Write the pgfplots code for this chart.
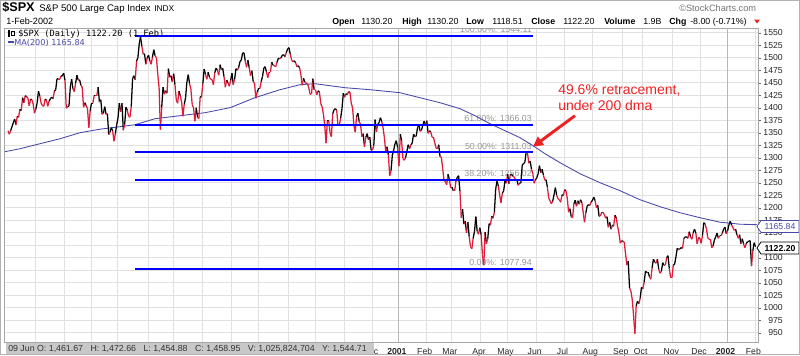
\documentclass[border=0pt]{standalone}
\usepackage{fontspec}
\setmainfont{Liberation Sans}
\newfontfamily\monofont{DejaVu Sans Mono}
\newfontfamily\dvs{DejaVu Sans}
\usepackage{pgfplots}
\usepackage{pgfplotstable}
\pgfplotsset{compat=1.18}
\usetikzlibrary{arrows.meta}
\definecolor{fibblue}{RGB}{0,0,255}
\definecolor{mablue}{RGB}{72,72,170}
\definecolor{annred}{RGB}{238,34,34}
\definecolor{gridc}{RGB}{224,224,224}
\definecolor{fibtxt}{RGB}{150,150,150}
\definecolor{boxgray}{RGB}{200,200,200}

% daily closes, Nov 1999 - 1 Feb 2002 (one row per trading day)
\pgfplotstableread[row sep=\\]{p\\
1354\\1347\\1354\\1362\\1370\\1377\\1366\\1383\\1381\\1397\\1394\\1420\\1410\\1424\\1422\\1420\\1404\\1417\\1416\\1407\\1389\\
1397\\1410\\1433\\1423\\1409\\1404\\1403\\1417\\1415\\1403\\1413\\1418\\1421\\1418\\1433\\1436\\1458\\1457\\1457\\1463\\1464\\1469\\
1455\\1399\\1402\\1403\\1441\\1457\\1438\\1432\\1449\\1465\\1455\\1456\\1445\\1441\\1401\\1410\\1404\\1398\\1360\\1394\\
1409\\1409\\1424\\1424\\1424\\1441\\1411\\1416\\1387\\1389\\1402\\1387\\1388\\1346\\1352\\1360\\1353\\1333\\1348\\1366\\
1379\\1409\\1392\\1409\\1355\\1366\\1401\\1395\\1383\\1381\\1402\\1458\\1464\\1456\\1493\\1500\\1527\\1542\\1523\\1507\\1508\\1487\\1499\\
1505\\1494\\1487\\1501\\1516\\1504\\1500\\1467\\1440\\1356\\1401\\1441\\1427\\1434\\1429\\1478\\1461\\1464\\1452\\
1468\\1446\\1415\\1409\\1433\\1424\\1411\\1383\\1407\\1420\\1452\\1466\\1448\\1437\\1406\\1400\\1373\\1400\\1381\\1378\\1422\\1421\\
1448\\1477\\1467\\1457\\1471\\1461\\1457\\1456\\1446\\1470\\1479\\1475\\1465\\1486\\1476\\1479\\1462\\1441\\1455\\1450\\1443\\1455\\
1469\\1446\\1457\\1478\\1475\\1480\\1492\\1495\\1509\\1510\\1494\\1481\\1495\\1480\\1464\\1474\\1453\\1449\\1419\\1431\\
1438\\1438\\1452\\1462\\1479\\1482\\1472\\1460\\1471\\1471\\1491\\1485\\1484\\1482\\1491\\1499\\1498\\1500\\1505\\1506\\1502\\1510\\1518\\
1520\\1507\\1495\\1492\\1494\\1490\\1482\\1484\\1480\\1466\\1445\\1459\\1451\\1449\\1448\\1439\\1427\\1427\\1458\\1436\\
1436\\1426\\1434\\1431\\1408\\1402\\1387\\1364\\1329\\1374\\1374\\1350\\1342\\1388\\1396\\1398\\1395\\1365\\1365\\1379\\1398\\1429\\
1421\\1428\\1426\\1432\\1431\\1409\\1400\\1365\\1351\\1382\\1389\\1372\\1367\\1342\\1348\\1322\\1341\\1348\\1336\\1341\\1315\\
1315\\1324\\1376\\1352\\1367\\1370\\1380\\1372\\1360\\1340\\1312\\1322\\1306\\1264\\1274\\1305\\1315\\1328\\1334\\1320\\
1283\\1347\\1334\\1298\\1295\\1300\\1313\\1326\\1318\\1326\\1329\\1347\\1342\\1343\\1360\\1365\\1353\\1355\\1365\\1373\\1366\\
1374\\1349\\1354\\1352\\1341\\1341\\1330\\1319\\1318\\1326\\1302\\1301\\1278\\1255\\1252\\1246\\1267\\1257\\1240\\
1241\\1234\\1234\\1253\\1261\\1264\\1233\\1180\\1197\\1167\\1173\\1150\\1171\\1142\\1122\\1118\\1139\\1153\\1182\\1153\\1147\\1160\\
1146\\1106\\1085\\1151\\1128\\1138\\1168\\1165\\1183\\1179\\1191\\1238\\1253\\1243\\1225\\1210\\1229\\1234\\1254\\1249\\
1267\\1248\\1266\\1267\\1263\\1261\\1255\\1256\\1245\\1249\\1250\\1285\\1288\\1291\\1312\\1309\\1289\\1293\\1277\\1268\\1249\\1256\\
1260\\1268\\1284\\1270\\1277\\1265\\1255\\1256\\1241\\1219\\1214\\1208\\1213\\1226\\1240\\1225\\1218\\1216\\1211\\1226\\1224\\
1236\\1234\\1219\\1191\\1198\\1182\\1180\\1208\\1215\\1203\\1214\\1207\\1216\\1210\\1191\\1171\\1190\\1203\\1206\\1205\\1211\\
1215\\1221\\1214\\1200\\1205\\1183\\1183\\1191\\1191\\1186\\1179\\1182\\1161\\1171\\1157\\1165\\1163\\1185\\1179\\1162\\1149\\1129\\1134\\
1133\\1131\\1107\\1085\\1093\\1039\\1033\\1017\\985\\948\\1004\\1013\\1008\\1019\\1041\\
1038\\1051\\1073\\1070\\1071\\1062\\1057\\1080\\1097\\1091\\1089\\1097\\1077\\1069\\1073\\1090\\1085\\1085\\1100\\1104\\1078\\1060\\1060\\
1085\\1087\\1102\\1119\\1116\\1118\\1120\\1119\\1139\\1141\\1142\\1139\\1152\\1142\\1137\\1150\\1157\\1149\\1128\\1140\\1139\\
1129\\1144\\1170\\1167\\1158\\1140\\1137\\1137\\1120\\1124\\1135\\1142\\1149\\1139\\1144\\1144\\1149\\1157\\1161\\1148\\
1154\\1166\\1173\\1165\\1160\\1155\\1157\\1146\\1139\\1146\\1128\\1138\\1128\\1120\\1128\\1132\\1133\\1134\\1083\\1114\\1130\\
1122\\
}\spx
\def\prevp{16000}
\pgfplotstablecreatecol[create col/assign/.code={%
  \getthisrow{p}\curp
  \ifdim\curp pt>\prevp pt\relax\def\mv{1}\else\def\mv{0}\fi
  \xdef\prevp{\curp}%
  \pgfkeyslet{/pgfplots/table/create col/next content}\mv
}]{m}\spx

% 200-day moving average (x in chart position units)
\pgfplotstableread[row sep=\\]{x p\\
5 1312\\20 1318\\40 1328\\60 1338\\80 1350\\100 1357\\120 1362\\135 1366\\155 1378\\180 1384\\
205 1390\\230 1400\\255 1420\\280 1436\\300 1446\\315 1448\\345 1440\\370 1436\\400 1430\\420 1420\\
440 1410\\460 1398\\475 1384\\490 1368\\505 1354\\520 1340\\533 1324\\545 1308\\560 1290\\580 1268\\
600 1250\\620 1234\\640 1216\\660 1202\\680 1190\\700 1180\\720 1171\\740 1167\\757 1166\\
}\ma

\begin{document}
\begin{tikzpicture}
\path[use as bounding box] (0,0) rectangle (600pt,266.25pt);
\begin{axis}[
  at={(3pt,9.75pt)}, anchor=south west,
  scale only axis, width=565.5pt, height=235.5pt,
  xmin=4, xmax=758, ymin=931.4, ymax=1559.4,
  axis line style={draw=black!35},
  ytick={950,975,...,1550},
  ytick pos=right, yticklabel pos=right,
  yticklabel style={anchor=east, xshift=16.5pt, inner sep=0pt, font=\fontsize{6.5}{7}\selectfont, text=black!85, /pgf/number format/1000 sep={}},
  scaled y ticks=false,
  /pgf/number format/assume math mode=true,
  xtick={35.3,64.5,91.0,117.5,148.0,173.2,202.3,231.5,258.0,288.5,315.0,344.1,372.0,398.5,426.3,451.5,480.6,507.1,536.3,564.1,591.9,622.4,642.3,672.8,700.6,727.1,755.0},
  xticklabels={,,,,,,,,,,,,Dec,\textbf{2001},Feb,Mar,Apr,May,Jun,Jul,Aug,Sep,Oct,Nov,Dec,\textbf{2002},Feb},
  xticklabel style={anchor=base, yshift=-6.9pt, xshift=-1.2pt, inner sep=0pt, font=\fontsize{6.5}{7}\selectfont, text=black!85},
  xtick style={draw=none},
  ytick style={draw=black!60},
  tick align=outside, major tick length=2.25pt,
  grid=major, major grid style={draw=gridc, line width=0.5pt},
  extra x ticks={398.5,727.1}, extra x tick labels={},
  extra x tick style={grid=major, major grid style={draw=black!28, line width=0.6pt}, xtick style={draw=none}},
  colormap={updown}{rgb255(0cm)=(222,28,58) rgb255(1cm)=(0,0,0)},
  point meta min=0, point meta max=1,
]
% Fibonacci level labels
\node[anchor=base east, inner sep=0pt, font=\fontsize{6.6}{7}\selectfont, text=fibtxt] at (axis cs:532,1550.2) {100.00\%: 1544.11};
\node[anchor=base east, inner sep=0pt, font=\fontsize{6.6}{7}\selectfont, text=fibtxt] at (axis cs:532,1371.5) {61.80\%: 1366.03};
\node[anchor=base east, inner sep=0pt, font=\fontsize{6.6}{7}\selectfont, text=fibtxt] at (axis cs:532,1316.5) {50.00\%: 1311.03};
\node[anchor=base east, inner sep=0pt, font=\fontsize{6.6}{7}\selectfont, text=fibtxt] at (axis cs:532,1261.5) {38.20\%: 1256.02};
\node[anchor=base east, inner sep=0pt, font=\fontsize{6.6}{7}\selectfont, text=fibtxt] at (axis cs:532,1083.5) {0.00\%: 1077.94};
% MA(200)
\addplot[mablue, line width=0.65pt, mark=none] table[x=x, y=p] {\ma};
% price
\addplot[mesh, shader=flat corner, point meta=explicit, line width=0.95pt, mark=none]
  table[x expr=8+1.3253*\coordindex, y=p, meta=m] {\spx};
% Fibonacci lines
\addplot[fibblue, line width=1.4pt, mark=none] coordinates {(135,1544.11) (533,1544.11)};
\addplot[fibblue, line width=1.4pt, mark=none] coordinates {(135,1366.03) (533,1366.03)};
\addplot[fibblue, line width=1.4pt, mark=none] coordinates {(135,1311.03) (533,1311.03)};
\addplot[fibblue, line width=1.4pt, mark=none] coordinates {(135,1256.02) (533,1256.02)};
\addplot[fibblue, line width=1.4pt, mark=none] coordinates {(135,1077.94) (533,1077.94)};
% annotation arrow
\draw[annred, line width=2.2pt, -{Triangle[length=7.5pt,width=7.5pt]}] (axis cs:575,1384) -- (axis cs:533,1322);
\end{axis}

\begin{scope}[x=0.75pt, y=-0.75pt, shift={(0pt,266.25pt)}]
% header
\node[anchor=base west, inner sep=0pt, font=\fontsize{9.5}{10}\selectfont\bfseries] at (2,11) {\$SPX};
\node[anchor=base west, inner sep=0pt, font=\fontsize{7.2}{8}\selectfont] at (39,11) {S\&P 500 Large Cap Index};
\node[anchor=base west, inner sep=0pt, font=\fontsize{6.3}{7}\selectfont] at (154,11) {INDX};
\node[anchor=base west, inner sep=0pt, font=\fontsize{6.8}{7}\selectfont] at (6,24) {1-Feb-2002};
\node[anchor=base west, inner sep=0pt, font=\fontsize{6.9}{7}\selectfont, text=black!55] at (679,11) {\textcopyright StockCharts.com};
\begin{scope}[every node/.style={anchor=base west, inner sep=0pt, font=\fontsize{6.6}{7}\selectfont}]
\node at (332,24) {\bfseries Open}; \node at (361,24) {1130.20};
\node at (402,24) {\bfseries High}; \node at (427,24) {1130.20};
\node at (466,24) {\bfseries Low};  \node at (492,24) {1118.51};
\node at (531,24) {\bfseries Close}; \node at (563,24) {1122.20};
\node at (604,24) {\bfseries Volume}; \node at (643,24) {1.9B};
\node at (669,24) {\bfseries Chg}; \node at (690,24) {-8.00 (-0.71\%)};
\end{scope}
\fill[annred] (754,19.5) -- (760,19.5) -- (757,23.5) -- cycle;

% in-chart legend
\fill[black] (8,30) rectangle (10,37);
\draw[black, line width=0.5pt] (11.8,31) rectangle (14.2,35.5);
\node[anchor=base west, inner sep=0pt, font=\monofont\fontsize{6.5}{7}\selectfont] at (18,36) {\$SPX (Daily) 1122.20 (1 Feb)};
\draw[mablue, line width=1pt] (7.5,42) -- (13.5,42);
\node[anchor=base west, inner sep=0pt, font=\dvs\fontsize{6.1}{7}\selectfont, text=mablue] at (14,45) {MA(200) 1165.84};

% annotation text
\node[anchor=base west, inner sep=0pt, font=\fontsize{10.5}{12}\selectfont, text=annred] at (558,94) {49.6\% retracement,};
\node[anchor=base west, inner sep=0pt, font=\fontsize{10.5}{12}\selectfont, text=annred] at (558,110) {under 200 dma};

% last-value tags
\draw[mablue, fill=white, line width=0.6pt] (757,226.5) -- (761,220.5) -- (799,220.5) -- (799,232.5) -- (761,232.5) -- cycle;
\node[inner sep=0pt, font=\fontsize{6.5}{7}\selectfont, text=mablue] at (780,226.8) {1165.84};
\draw[black, fill=white, line width=0.6pt] (757,248) -- (761,242) -- (799,242) -- (799,254) -- (761,254) -- cycle;
\node[inner sep=0pt, font=\fontsize{6.5}{7}\selectfont\bfseries] at (780,248.3) {1122.20};

% hover read-out box
\fill[boxgray] (6,342.6) rectangle (374,355);
\node[anchor=base west, inner sep=0pt, font=\fontsize{6.6}{7}\selectfont, text=black!80] at (8,351.8)
  {09 Jun O: 1,461.67\hspace{5.6pt}H: 1,472.66\hspace{5.6pt}L: 1,454.88\hspace{5.6pt}C: 1,458.95\hspace{5.6pt}V: 1,025,824,704\hspace{5.6pt}Y: 1,544.71};

% outer border
\draw[black!30, line width=0.5pt] (0.3,0.3) rectangle (799.7,354.7);
\end{scope}
\end{tikzpicture}
\end{document}
